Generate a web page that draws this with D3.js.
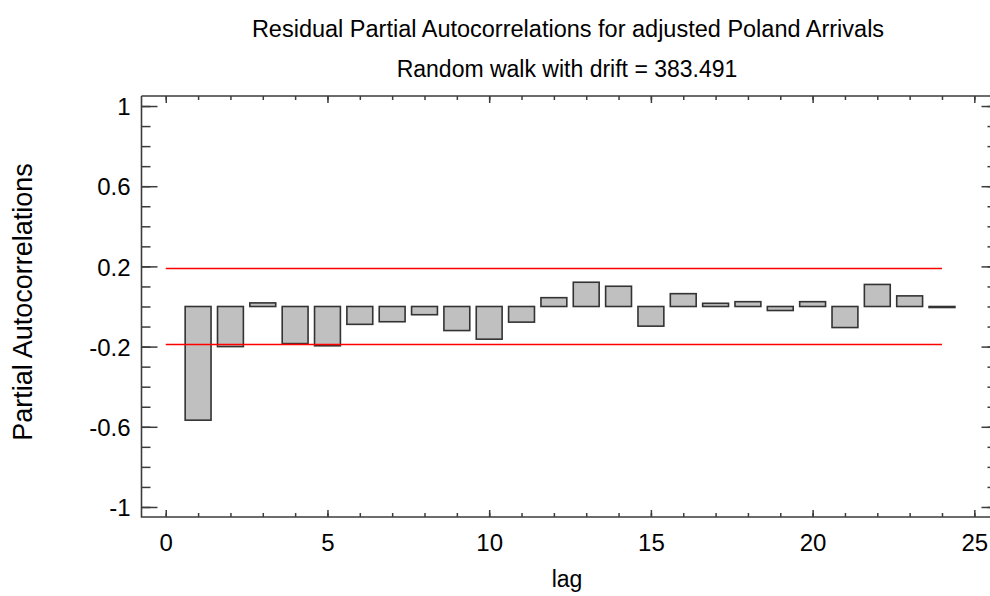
<!DOCTYPE html>
<html>
<head>
<meta charset="utf-8">
<script src="https://cdn.jsdelivr.net/npm/d3@7"></script>
<style>
  html, body { margin: 0; padding: 0; background: #fff; }
  svg { display: block; }
  text { font-family: "Liberation Sans", Arial, sans-serif; fill: #000; }
</style>
</head>
<body>
<svg id="chart" width="990" height="596"></svg>
<script>
const titleText = "Residual Partial Autocorrelations for adjusted Poland Arrivals";
const subtitleText = "Random walk with drift = 383.491";
const xLabel = "lag";
const yLabel = "Partial Autocorrelations";

const lags = [1,2,3,4,5,6,7,8,9,10,11,12,13,14,15,16,17,18,19,20,21,22,23,24];
const pacf = [-0.567,-0.200,0.018,-0.185,-0.196,-0.089,-0.076,-0.041,-0.120,-0.163,-0.078,0.044,
              0.121,0.101,-0.098,0.064,0.016,0.024,-0.020,0.024,-0.105,0.110,0.053,-0.005];
const limitUpper = 0.19;
const limitLower = -0.19;
const limitLagRange = [0, 24];

const xTickValues = [0,5,10,15,20,25];
const yTickValues = [-1,-0.6,-0.2,0.2,0.6,1];
const yTickLabels = ["-1","-0.6","-0.2","0.2","0.6","1"];

const svg = d3.select("#chart");
const pLeft = 141.5, pRight = 990.5, pTop = 96, pBottom = 517;

const x = d3.scaleLinear().domain([-0.75, 25.5]).range([pLeft, pRight]);
const y = d3.scaleLinear().domain([-1.05, 1.05]).range([pBottom, pTop]);

const axisColor = "#3c3c3c";

// Bars
const barW = x(0.8) - x(0);
svg.append("g").selectAll("rect").data(lags.map((l,i)=>({lag:l, v:pacf[i]}))).join("rect")
  .attr("x", d => x(d.lag) - barW/2)
  .attr("y", d => y(Math.max(0, d.v)))
  .attr("width", barW)
  .attr("height", d => Math.max(0.5, Math.abs(y(d.v) - y(0))))
  .attr("fill", "#c0c0c0")
  .attr("stroke", "#333")
  .attr("stroke-width", 1.6);

// Limits
[limitUpper, limitLower].forEach(v => {
  svg.append("line")
    .attr("x1", x(limitLagRange[0])).attr("x2", x(limitLagRange[1]))
    .attr("y1", y(v)).attr("y2", y(v))
    .attr("stroke", "#ff0000").attr("stroke-width", 1.5);
});

// Axes
const xMinor = d3.range(0, 26, 1);
const yMinor = d3.range(-10, 11, 1).map(d => d/10);

const gx = svg.append("g").attr("transform", `translate(0,${pBottom})`)
  .call(d3.axisBottom(x).tickValues(xMinor).tickSize(-4).tickFormat(""));
const gxMaj = svg.append("g").attr("transform", `translate(0,${pBottom})`)
  .call(d3.axisBottom(x).tickValues(xTickValues).tickSize(-7).tickFormat(d3.format("d")));
const gxt = svg.append("g").attr("transform", `translate(0,${pTop})`)
  .call(d3.axisTop(x).tickValues(xMinor).tickSize(-4).tickFormat(""));
const gxtMaj = svg.append("g").attr("transform", `translate(0,${pTop})`)
  .call(d3.axisTop(x).tickValues(xTickValues).tickSize(-7).tickFormat(""));

const gy = svg.append("g").attr("transform", `translate(${pLeft},0)`)
  .call(d3.axisLeft(y).tickValues(yMinor).tickSize(-9).tickFormat(""));
const gyMaj = svg.append("g").attr("transform", `translate(${pLeft},0)`)
  .call(d3.axisLeft(y).tickValues(yTickValues).tickSize(-16).tickFormat((d,i)=>yTickLabels[i]));
const gyr = svg.append("g").attr("transform", `translate(${pRight},0)`)
  .call(d3.axisRight(y).tickValues(yMinor).tickSize(-3).tickFormat(""));
const gyrMaj = svg.append("g").attr("transform", `translate(${pRight},0)`)
  .call(d3.axisRight(y).tickValues(yTickValues).tickSize(-9).tickFormat(""));

[gx,gxMaj,gxt,gxtMaj,gy,gyMaj,gyr,gyrMaj].forEach(g => {
  g.select("path.domain").remove();
  g.selectAll(".tick line").attr("stroke", axisColor).attr("stroke-width", 1.5);
});
// frame lines
svg.append("path")
  .attr("d", `M${pLeft},${pTop}H${pRight}M${pLeft},${pTop}V${pBottom}H${pRight}`)
  .attr("fill","none").attr("stroke", axisColor).attr("stroke-width", 1.6);

gxMaj.selectAll(".tick text")
  .attr("y", 33.5).attr("dy", 0)
  .attr("font-size", 24).attr("font-family", "Liberation Sans, Arial, sans-serif").attr("fill","#000");

gyMaj.selectAll(".tick text")
  .attr("x", -11).attr("dy", "0.36em")
  .attr("text-anchor", "end")
  .attr("font-size", 24).attr("font-family", "Liberation Sans, Arial, sans-serif").attr("fill","#000");

function addText(str, tx, ty, size, rot) {
  svg.append("text")
    .attr("transform", `translate(${tx},${ty}) rotate(${rot||0})`)
    .attr("text-anchor", "middle")
    .attr("font-size", size)
    .text(str);
}
addText(titleText, 568, 37, 23.5);
addText(subtitleText, 567, 77, 23);
addText(xLabel, 567, 587, 23);
addText(yLabel, 32, 302, 27, -90);
</script>
</body>
</html>
